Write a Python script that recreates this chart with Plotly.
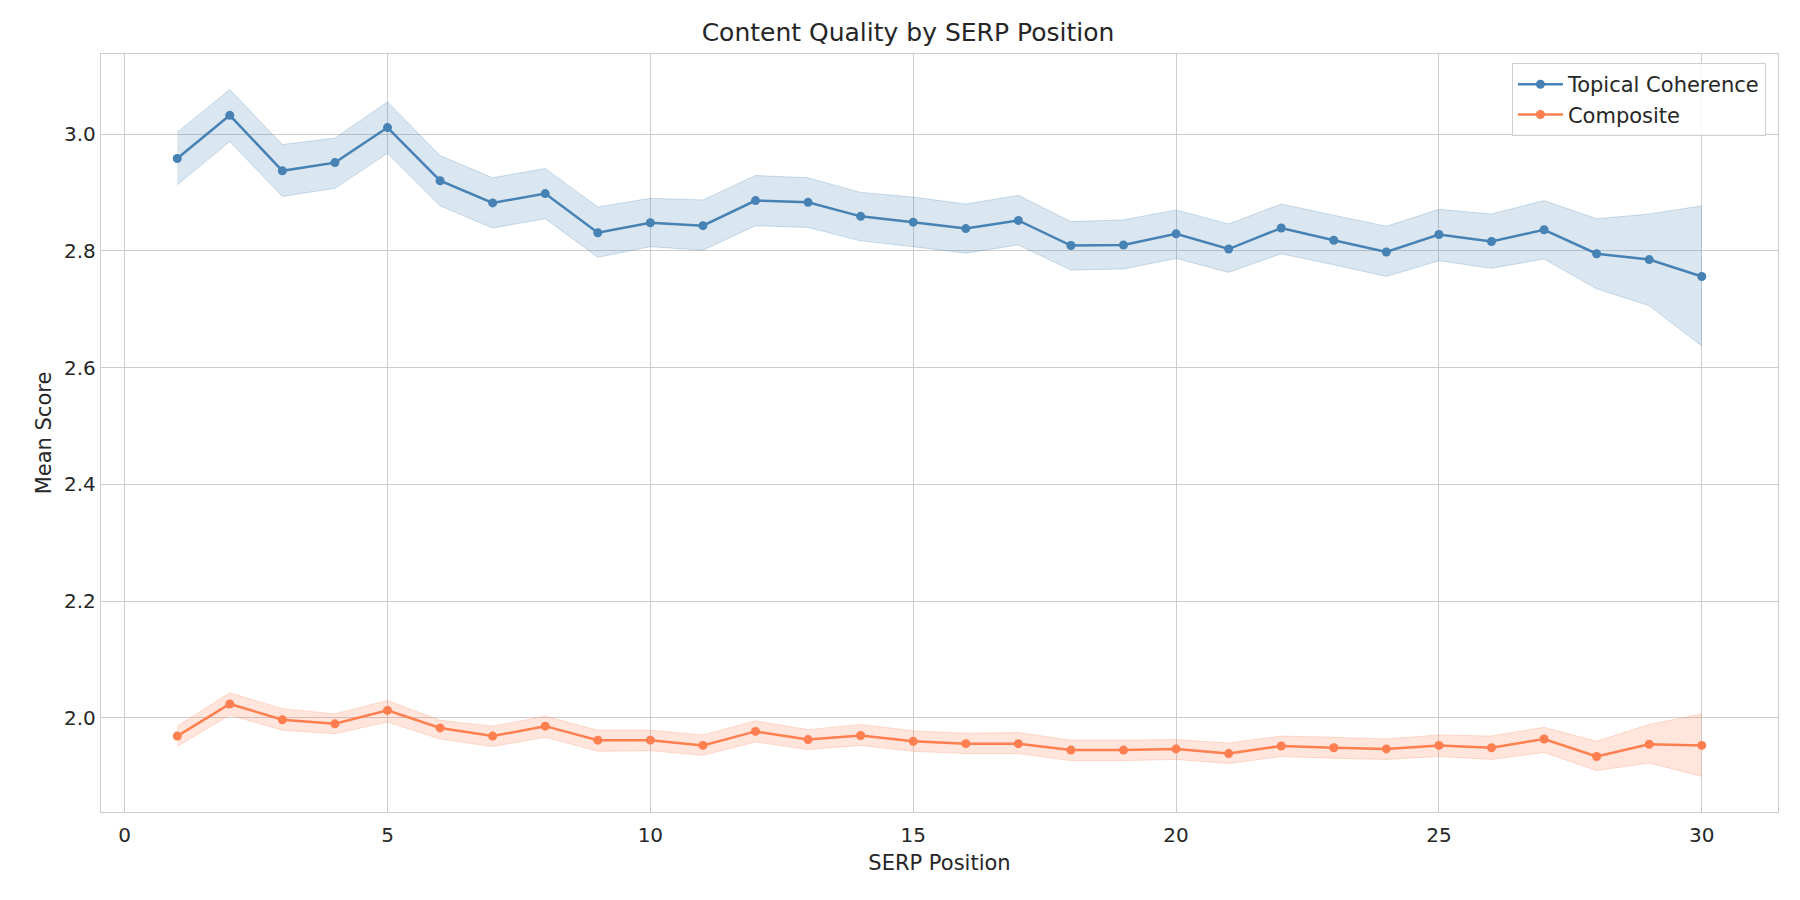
import plotly.graph_objects as go

# SERP positions 1..30
positions = list(range(1, 31))

# Topical Coherence: mean and CI band
tc_mean = [2.958, 3.032, 2.937, 2.951, 3.011, 2.920, 2.882, 2.898, 2.831, 2.848,
           2.843, 2.886, 2.883, 2.859, 2.849, 2.838, 2.852, 2.809, 2.810, 2.829,
           2.803, 2.839, 2.818, 2.798, 2.828, 2.816, 2.836, 2.795, 2.785, 2.756]
tc_upper = [3.003, 3.076, 2.982, 2.993, 3.055, 2.963, 2.925, 2.941, 2.875, 2.890,
            2.887, 2.929, 2.925, 2.900, 2.892, 2.880, 2.895, 2.850, 2.853, 2.870,
            2.846, 2.880, 2.861, 2.842, 2.871, 2.863, 2.886, 2.855, 2.863, 2.877]
tc_lower = [2.913, 2.987, 2.893, 2.907, 2.967, 2.877, 2.839, 2.855, 2.789, 2.807,
            2.801, 2.843, 2.840, 2.817, 2.807, 2.796, 2.810, 2.767, 2.769, 2.787,
            2.763, 2.795, 2.776, 2.756, 2.783, 2.770, 2.786, 2.735, 2.706, 2.637]

# Composite: mean and CI band
comp_mean = [1.969, 2.024, 1.997, 1.990, 2.013, 1.983, 1.969, 1.986, 1.962, 1.962,
             1.953, 1.977, 1.963, 1.970, 1.960, 1.956, 1.956, 1.945, 1.945, 1.947,
             1.939, 1.952, 1.949, 1.947, 1.953, 1.949, 1.964, 1.934, 1.955, 1.953]
comp_upper = [1.986, 2.043, 2.016, 2.007, 2.030, 1.996, 1.986, 2.003, 1.979, 1.979,
              1.971, 1.995, 1.980, 1.989, 1.978, 1.974, 1.975, 1.962, 1.962, 1.963,
              1.957, 1.969, 1.967, 1.964, 1.971, 1.969, 1.984, 1.960, 1.989, 2.007]
comp_lower = [1.951, 2.005, 1.979, 1.973, 1.993, 1.964, 1.951, 1.967, 1.943, 1.944,
              1.936, 1.959, 1.946, 1.953, 1.943, 1.939, 1.939, 1.927, 1.927, 1.929,
              1.922, 1.934, 1.931, 1.929, 1.934, 1.929, 1.941, 1.910, 1.923, 1.900]

x_ticks = [0, 5, 10, 15, 20, 25, 30]
y_ticks = [2.0, 2.2, 2.4, 2.6, 2.8, 3.0]

TEXT = '#262626'
GRID = '#cccccc'


def add_band(fig, lower, upper, line_rgb):
    fig.add_trace(go.Scatter(
        x=positions,
        y=lower,
        mode='lines',
        line=dict(color='rgba(%s,0.25)' % line_rgb, width=1),
        showlegend=False,
        hoverinfo='skip',
    ))
    fig.add_trace(go.Scatter(
        x=positions,
        y=upper,
        mode='lines',
        fill='tonexty',
        fillcolor='rgba(%s,0.2)' % line_rgb,
        line=dict(color='rgba(%s,0.25)' % line_rgb, width=1),
        showlegend=False,
        hoverinfo='skip',
    ))


def add_line(fig, values, color, name):
    fig.add_trace(go.Scatter(
        x=positions,
        y=values,
        mode='lines+markers',
        line=dict(color=color, width=2.5),
        marker=dict(color=color, size=9),
        name=name,
    ))


fig = go.Figure()

add_band(fig, tc_lower, tc_upper, '70,130,180')
add_line(fig, tc_mean, '#4682B4', 'Topical Coherence')
add_band(fig, comp_lower, comp_upper, '255,127,80')
add_line(fig, comp_mean, '#FF7F50', 'Composite')

layout = go.Layout(
    width=1800,
    height=900,
    font_family='DejaVu Sans',
    font_color=TEXT,
    font_size=20,
    plot_bgcolor='white',
    paper_bgcolor='white',
    margin=dict(l=93, r=30, t=46, b=96),
    title=dict(text='Content Quality by SERP Position', x=0.5, xanchor='center',
               y=1 - 24 / 900, yanchor='middle', font=dict(size=25, color=TEXT)),
    xaxis=dict(
        range=[-0.45, 31.45],
        tickvals=x_ticks,
        showgrid=True, gridcolor=GRID, gridwidth=1.3,
        zeroline=False,
        showline=True, linecolor=GRID, linewidth=1.3, mirror=True,
        ticks='', ticklen=0,
        ticklabelstandoff=5,
        title=dict(text='SERP Position', font=dict(size=21), standoff=9),
    ),
    yaxis=dict(
        range=[1.839, 3.137],
        tickvals=y_ticks,
        tickformat='.1f',
        showgrid=True, gridcolor=GRID, gridwidth=1.3,
        zeroline=False,
        showline=True, linecolor=GRID, linewidth=1.3, mirror=True,
        ticks='', ticklen=0,
        title=dict(text='Mean Score', font=dict(size=21), standoff=6),
    ),
    legend=dict(
        x=0.9928, y=0.988, xanchor='right', yanchor='top',
        traceorder='normal',
        itemwidth=45,
        bgcolor='rgba(255,255,255,0.8)',
        bordercolor='#d0d0d0', borderwidth=1,
        font=dict(size=21),
    ),
)

fig.update_layout(layout)

fig.write_html("out.html")
